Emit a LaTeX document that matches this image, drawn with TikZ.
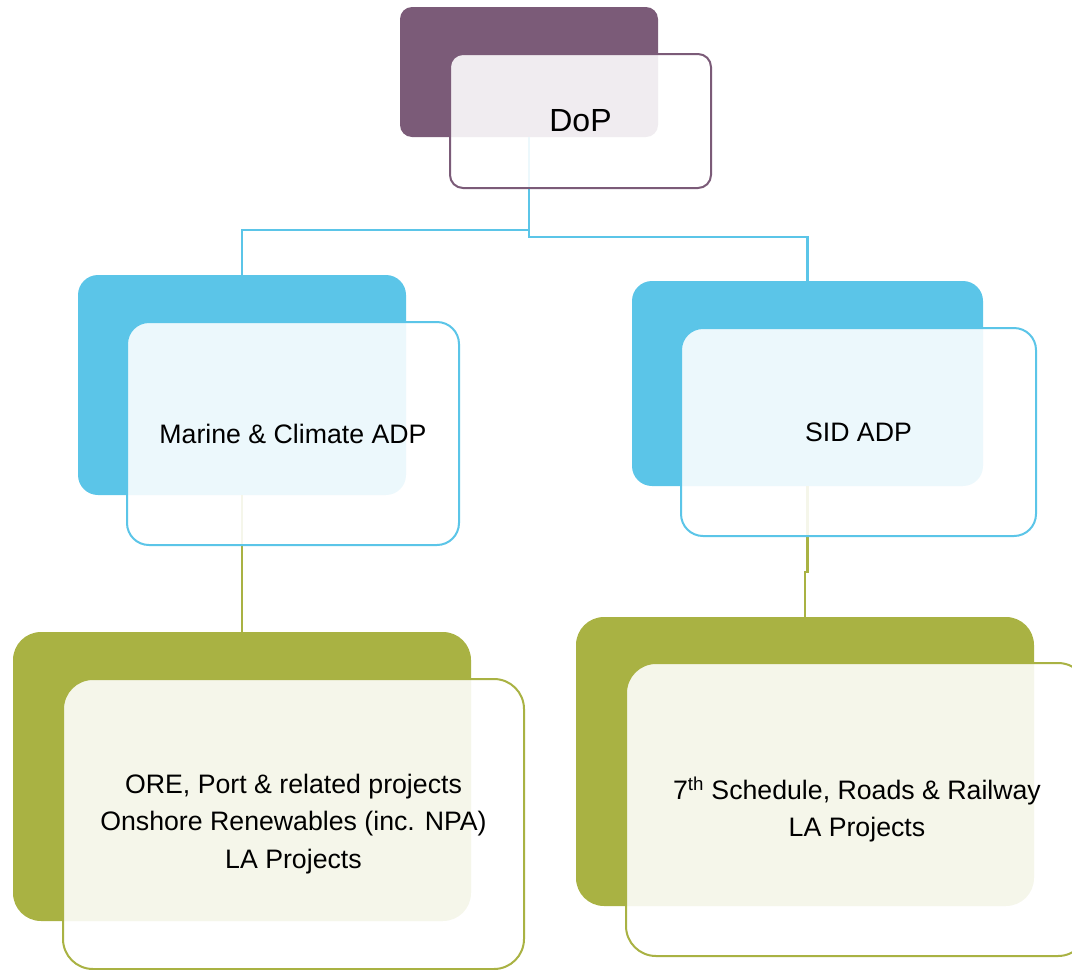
\documentclass[tikz,border=0pt]{standalone}
\usepackage{fontspec}
\setmainfont{Liberation Sans}
\definecolor{cP}{HTML}{7B5B78}
\definecolor{cB}{HTML}{5BC5E8}
\definecolor{cG}{HTML}{A9B243}
\tikzset{
  backbox/.style={draw=none, rounded corners=#1, inner sep=0pt},
  frontbox/.style={fill=white, fill opacity=0.89, line width=2pt, rounded corners=#1, inner sep=0pt},
  lbl/.style={align=center, font=\fontsize{26.7}{37.5}\selectfont, text=black},
  conn/.style={line width=2.5pt},
}
\begin{document}
\begin{tikzpicture}[x=1pt,y=-1pt]
\useasboundingbox (0,0) rectangle (1072,970);
\clip (0,0) rectangle (1072,970);
% back boxes
\node[backbox=12pt, fill=cP, minimum width=258pt, minimum height=130pt] (dopb) at (529,72) {};
\node[backbox=20pt, fill=cB, minimum width=328pt, minimum height=220pt] (mb) at (242,385) {};
\node[backbox=20pt, fill=cB, minimum width=351pt, minimum height=205pt] (sb) at (807.5,383.5) {};
\node[backbox=28pt, fill=cG, minimum width=458pt, minimum height=289pt] (blb) at (242,776.5) {};
\node[backbox=28pt, fill=cG, minimum width=458pt, minimum height=289pt] (brb) at (805,761.5) {};
% connectors
\draw[conn, cB] (dopb.south) -- ++(0,93) -| (mb.north);
\draw[conn, cB] (dopb.south) -- ++(0,100) -| (sb.north);
\draw[conn, cG] (mb.south) -- (blb.north);
\draw[conn, cG] (sb.south) -- ++(0,86) -| (brb.north);
% front boxes
\node[frontbox=13pt, draw=cP, minimum width=261pt, minimum height=134pt] (dopf) at (580.5,121) {};
\node[frontbox=22pt, draw=cB, minimum width=332pt, minimum height=223pt] (mf) at (293,433.5) {};
\node[frontbox=22pt, draw=cB, minimum width=355pt, minimum height=208pt] (sf) at (858.5,432) {};
\node[frontbox=30pt, draw=cG, minimum width=461pt, minimum height=290pt] (blf) at (293.5,824) {};
\node[frontbox=30pt, draw=cG, minimum width=462pt, minimum height=293pt] (brf) at (857,809.5) {};
% labels
\node[lbl, font=\fontsize{32}{38}\selectfont] (dopt) at (dopf) {DoP};
\node[lbl] (mt) at (mf) {Marine \& Climate ADP};
\node[lbl] (st) at (sf) {SID ADP};
\node[lbl] (blt) at (blf) {ORE, Port \& related projects\\Onshore Renewables (inc. NPA)\\LA Projects};
\node[lbl] (brt) at (brf) {7\textsuperscript{th} Schedule, Roads \& Railway\\LA Projects};
\end{tikzpicture}
\end{document}
